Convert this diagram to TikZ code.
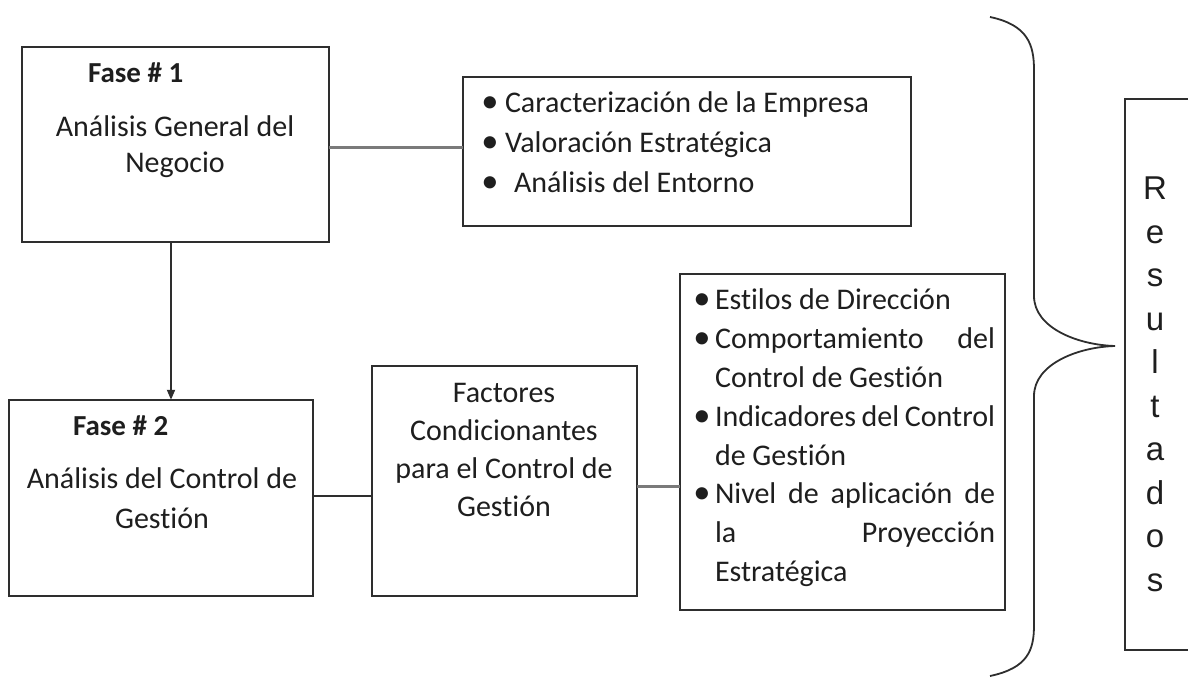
\documentclass[tikz,border=0pt]{standalone}
\usepackage{fontspec}
\setmainfont{Carlito}[Ligatures={NoCommon}]
\newfontfamily\arialf{Liberation Sans}
\usetikzlibrary{arrows.meta}
\definecolor{edge}{HTML}{2E2E2E}
\definecolor{ink}{HTML}{1E1E1E}
\definecolor{greyline}{HTML}{7A7A7A}
\newcommand{\bul}{\makebox[16pt][c]{\scalebox{1.15}{\textbullet}}}
\begin{document}
\begin{tikzpicture}[x=1pt,y=-1pt,
  boxstyle/.style={draw=edge,line width=2pt,fill=none},
  txt/.style={inner sep=0pt,outer sep=0pt,text=ink},
  thinlink/.style={draw=edge,line width=1.8pt},
  greylink/.style={draw=greyline,line width=3pt}]
\useasboundingbox (0,0) rectangle (1188,679);
% boxes
\draw[boxstyle] (22,47) rectangle (329,242);
\node[inner sep=0pt,minimum width=307pt,minimum height=195pt] (b1) at (175.5,144.5) {};
\draw[boxstyle] (463,77) rectangle (911,226);
\node[inner sep=0pt,minimum width=448pt,minimum height=149pt] (b2) at (687,151.5) {};
\draw[boxstyle] (9,400) rectangle (313,596);
\node[inner sep=0pt,minimum width=304pt,minimum height=196pt] (b3) at (161,498) {};
\draw[boxstyle] (372,366) rectangle (637,596);
\node[inner sep=0pt,minimum width=265pt,minimum height=230pt] (b4) at (504.5,481) {};
\draw[boxstyle] (680,274) rectangle (1005,610);
\node[inner sep=0pt,minimum width=325pt,minimum height=336pt] (b5) at (842.5,442) {};
\draw[draw=edge,line width=2pt] (1195,99) -- (1125,99) -- (1125,650) -- (1195,650);
\node[inner sep=0pt,minimum width=70pt,minimum height=551pt] (res) at (1160,374.5) {};
% texts
\node[txt,anchor=base west,font=\fontsize{29}{36}\selectfont\bfseries] (f1) at (88,83) {Fase \# 1};
\node[txt,anchor=north,align=center,font=\fontsize{30}{36}\selectfont] (t1) at (175,111.8) {\strut Análisis General del\\Negocio};
\node[txt,anchor=north west,align=left,font=\fontsize{30}{40}\selectfont] (t2) at (482,85) {\strut\bul\hspace{7pt}Caracterización de la Empresa\\\bul\hspace{7pt}Valoración Estratégica\\\bul\hspace{16pt}Análisis del Entorno};
\node[txt,anchor=base west,font=\fontsize{29}{36}\selectfont\bfseries] (f2) at (73,435) {Fase \# 2};
\node[txt,anchor=north,align=center,font=\fontsize{30}{40}\selectfont] (t3) at (162,460) {\strut Análisis del Control de\\Gestión};
\node[txt,anchor=north,align=center,font=\fontsize{30}{38.3}\selectfont] (t4) at (504,375.2) {\strut Factores\\Condicionantes\\para el Control de\\Gestión};
\node[txt,anchor=north west,align=left,font=\fontsize{30}{38.8}\selectfont] (t5) at (694,282.8) {\strut\bul\hspace{5pt}Estilos de Dirección\\
\bul\hspace{5pt}\makebox[280pt][s]{Comportamiento del}\\
\hspace*{21pt}Control de Gestión\\
\bul\hspace{5pt}\makebox[280pt][s]{Indicadores del Control}\\
\hspace*{21pt}de Gestión\\
\bul\hspace{5pt}\makebox[280pt][s]{Nivel de aplicación de}\\
\hspace*{21pt}\makebox[280pt][s]{la Proyección}\\
\hspace*{21pt}Estratégica};
\node[txt,anchor=north,align=center,font=\arialf\fontsize{33}{43.5}\selectfont] (t6) at (1155,169.5) {\strut R\\e\\s\\u\\l\\t\\a\\d\\o\\s};
% connectors
\draw[greylink] (b1.east |- 0,148) -- (b2.west |- 0,148);
\draw[thinlink,-{Triangle[length=10pt,width=8pt]}] (b1.south -| 171,0) -- (b3.north -| 171,0);
\draw[thinlink] (b3.east |- 0,496) -- (b4.west |- 0,496);
\draw[greylink] (b4.east |- 0,486) -- (b5.west |- 0,486);
% brace
\coordinate (tip) at (1115,346);
\draw[draw=edge,line width=1.8pt] (990,17) .. controls (1028,25) and (1034,45) .. (1034,70) -- (1034,296) .. controls (1034,328) and (1078,345) .. (tip) .. controls (1078,347) and (1034,364) .. (1034,396) -- (1034,625) .. controls (1034,650) and (1028,668) .. (990,676);
\end{tikzpicture}
\end{document}
